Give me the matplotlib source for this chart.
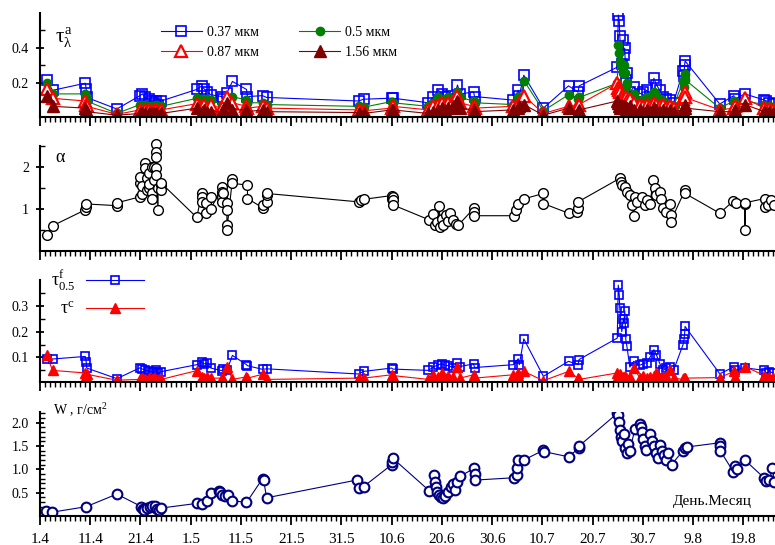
import numpy as np
import matplotlib
matplotlib.use('Agg')
import matplotlib.pyplot as plt
from matplotlib.ticker import FixedLocator, MultipleLocator, FormatStrFormatter

plt.rcParams['font.family'] = ['Liberation Serif', 'DejaVu Serif']
plt.rcParams['mathtext.fontset'] = 'custom'
plt.rcParams['mathtext.rm'] = 'Liberation Serif'
plt.rcParams['mathtext.it'] = 'Liberation Serif'
plt.rcParams['mathtext.bf'] = 'Liberation Serif:bold'

# days counted from 1 April
xlabels = ['1.4', '11.4', '21.4', '1.5', '11.5', '21.5', '31.5', '10.6',
           '20.6', '30.6', '10.7', '20.7', '30.7', '9.8', '19.8']

# --- panel 1 and 3: spectral AOD, fine/coarse AOD
days = [1.3, 2.5, 9.0, 9.2, 9.3, 15.3,
        19.9, 20.4, 20.9, 21.7, 22.2, 22.7, 23.1, 23.5, 24.1,
        31.2, 32.2, 32.6, 33.3, 34.0,
        36.2, 36.5, 37.2, 38.3,
        41.1, 41.3, 44.3, 45.1,
        63.4, 64.4, 70.0, 70.2,
        77.3, 78.3, 79.3, 80.0, 80.6, 81.3, 82.3, 83.1, 83.6,
        86.3, 86.5,
        94.2, 95.2, 95.4, 96.3,
        100.2, 105.2, 107.1, 107.3,
        114.9, 115.1, 115.3, 115.4, 115.8, 116.1, 116.2, 116.4, 116.6, 116.8,
        117.4, 118.2, 119.4, 120.1, 120.8, 121.4, 122.2, 122.7, 123.4, 124.1, 124.7, 125.4, 126.1,
        128.0, 128.2, 128.3, 128.4,
        135.3, 138.1, 138.3, 140.3,
        144.2, 144.6, 145.2, 145.9]

tau037 = [0.22, 0.16, 0.20, 0.17, 0.12, 0.055,
          0.13, 0.14, 0.12, 0.11, 0.10, 0.09, 0.10, 0.08, 0.10,
          0.165, 0.185, 0.17, 0.15, 0.135,
          0.125, 0.11, 0.145, 0.21,
          0.165, 0.125, 0.13, 0.12,
          0.10, 0.11, 0.116, 0.116,
          0.09, 0.125, 0.16, 0.14, 0.125, 0.13, 0.11, 0.19, 0.14,
          0.15, 0.125,
          0.105, 0.16, 0.13, 0.245,
          0.06, 0.185, 0.15, 0.185,
          0.29, 0.584, 0.552, 0.466, 0.31, 0.443, 0.36, 0.397, 0.22, 0.26,
          0.15, 0.177, 0.14, 0.15, 0.16, 0.12, 0.228, 0.19, 0.16, 0.12, 0.11, 0.106, 0.09,
          0.27, 0.24, 0.30, 0.325,
          0.083, 0.13, 0.11, 0.14,
          0.105, 0.10, 0.09, 0.085]

tau05 = [0.20, 0.14, 0.14, 0.12, 0.10, 0.03,
         0.08, 0.07, 0.08, 0.07, 0.07, 0.06, 0.08, 0.06, 0.07,
         0.115, 0.11, 0.10, 0.11, 0.105,
         0.08, 0.075, 0.10, 0.125,
         0.105, 0.09, 0.09, 0.08,
         0.07, 0.065, 0.097, 0.09,
         0.07, 0.09, 0.12, 0.10, 0.11, 0.12, 0.09, 0.15, 0.12,
         0.10, 0.09,
         0.08, 0.12, 0.10, 0.215,
         0.045, 0.135, 0.11, 0.12,
         0.20, 0.415, 0.37, 0.32, 0.29, 0.26, 0.30, 0.26, 0.18, 0.20,
         0.12, 0.14, 0.10, 0.105, 0.12, 0.10, 0.15, 0.13, 0.11, 0.10, 0.09, 0.08, 0.07,
         0.21, 0.18, 0.25, 0.22,
         0.06, 0.10, 0.08, 0.10,
         0.08, 0.07, 0.07, 0.065]

tau087 = [0.17, 0.115, 0.10, 0.08, 0.07, 0.025,
          0.05, 0.04, 0.05, 0.05, 0.04, 0.05, 0.05, 0.04, 0.05,
          0.085, 0.07, 0.08, 0.06, 0.075,
          0.06, 0.07, 0.12, 0.09,
          0.07, 0.06, 0.07, 0.06,
          0.05, 0.045, 0.06, 0.07,
          0.05, 0.07, 0.08, 0.09, 0.08, 0.09, 0.10, 0.13, 0.09,
          0.07, 0.06,
          0.07, 0.08, 0.09, 0.13,
          0.03, 0.07, 0.075, 0.08,
          0.20, 0.175, 0.16, 0.15, 0.13, 0.12, 0.11, 0.10, 0.12, 0.10,
          0.11, 0.09, 0.08, 0.07, 0.08, 0.07, 0.09, 0.08, 0.07, 0.08, 0.06, 0.07, 0.06,
          0.11, 0.125, 0.15, 0.12,
          0.05, 0.06, 0.07, 0.115,
          0.06, 0.05, 0.055, 0.05]

tau156 = [0.13, 0.07, 0.06, 0.05, 0.04, 0.02,
          0.03, 0.03, 0.03, 0.03, 0.03, 0.03, 0.03, 0.02, 0.03,
          0.06, 0.04, 0.05, 0.04, 0.04,
          0.04, 0.05, 0.09, 0.05,
          0.05, 0.04, 0.05, 0.04,
          0.035, 0.03, 0.05, 0.05,
          0.03, 0.04, 0.05, 0.06, 0.05, 0.06, 0.07, 0.10, 0.06,
          0.05, 0.04,
          0.05, 0.06, 0.07, 0.08,
          0.02, 0.06, 0.04, 0.05,
          0.10, 0.09, 0.07, 0.06, 0.08, 0.07, 0.06, 0.07, 0.05, 0.06,
          0.07, 0.05, 0.05, 0.04, 0.05, 0.04, 0.06, 0.05, 0.04, 0.05, 0.04, 0.05, 0.04,
          0.05, 0.06, 0.08, 0.06,
          0.04, 0.04, 0.05, 0.08,
          0.04, 0.035, 0.04, 0.035]

tau_fine = [0.094, 0.094, 0.104, 0.082, 0.059, 0.018,
            0.06, 0.055, 0.05, 0.048, 0.045, 0.042, 0.05, 0.04, 0.045,
            0.072, 0.082, 0.075, 0.078, 0.059,
            0.049, 0.055, 0.05, 0.108,
            0.072, 0.068, 0.054, 0.056,
            0.036, 0.046, 0.059, 0.055,
            0.05, 0.063, 0.072, 0.076, 0.07, 0.068, 0.06, 0.08, 0.065,
            0.075, 0.061,
            0.072, 0.095, 0.072, 0.172,
            0.027, 0.085, 0.072, 0.092,
            0.175, 0.38, 0.342, 0.29, 0.20, 0.25, 0.235, 0.28, 0.17, 0.146,
            0.063, 0.085, 0.07, 0.076, 0.08, 0.10, 0.13, 0.11, 0.075, 0.05, 0.06, 0.065, 0.05,
            0.15, 0.17, 0.19, 0.22,
            0.037, 0.063, 0.05, 0.06,
            0.05, 0.04, 0.045, 0.04]

tau_coarse = [0.11, 0.05, 0.04, 0.03, 0.035, 0.012,
              0.015, 0.02, 0.015, 0.02, 0.015, 0.02, 0.018, 0.012, 0.015,
              0.049, 0.025, 0.02, 0.025, 0.02,
              0.02, 0.015, 0.065, 0.015,
              0.025, 0.02, 0.035, 0.015,
              0.02, 0.02, 0.033, 0.03,
              0.015, 0.033, 0.025, 0.04, 0.02, 0.03, 0.025, 0.065, 0.02,
              0.033, 0.02,
              0.033, 0.04, 0.02, 0.046,
              0.01, 0.046, 0.02, 0.015,
              0.04, 0.03, 0.02, 0.035, 0.02, 0.025, 0.015, 0.03, 0.02, 0.015,
              0.025, 0.06, 0.02, 0.03, 0.02, 0.025, 0.03, 0.04, 0.02, 0.025, 0.03, 0.05, 0.02,
              0.015, 0.02, 0.015, 0.02,
              0.022, 0.046, 0.025, 0.065,
              0.03, 0.02, 0.025, 0.02]

# --- panel 2: Angstrom exponent
days_a = [1.3, 2.5, 9.0, 9.1, 9.2, 15.3, 15.4,
          19.9, 19.9, 19.9, 20.4, 20.4, 20.9, 20.9, 21.2, 21.2, 21.7, 21.7, 21.7,
          22.2, 22.2, 22.2, 22.7, 22.7, 23.1, 23.1, 23.1, 23.1, 23.1, 23.5, 23.5,
          24.1, 24.1, 24.1,
          31.2, 32.2, 32.2, 32.2, 33.0, 33.0, 34.0, 34.0,
          36.2, 36.2, 36.2, 36.2, 36.5, 37.2, 37.2, 37.2, 37.2, 38.3, 38.3,
          41.3, 41.3, 44.3, 44.4, 45.1, 45.1, 45.1,
          63.4, 63.8, 64.4, 70.0, 70.0, 70.2, 70.2, 70.2,
          77.5, 78.3, 78.6, 79.0, 79.5, 79.6, 80.0, 80.3, 80.9, 81.3, 81.6, 82.3, 82.8, 83.3,
          86.4, 86.4, 86.4, 94.3, 94.8, 95.2, 96.3,
          100.2, 100.2, 105.2, 106.9, 107.0, 107.1,
          115.4, 115.6, 115.8, 116.4, 116.8, 117.4, 117.8, 118.2, 118.4, 118.8,
          119.8, 120.4, 120.8, 121.4, 122.1, 122.4, 122.7, 123.4, 123.7, 124.1,
          124.7, 125.4, 125.5, 125.5,
          128.4, 128.4, 135.3, 138.0, 138.6, 140.3, 140.3, 140.4,
          144.3, 144.3, 144.9, 145.5, 146.1]

alpha = [0.38, 0.60, 0.98, 1.05, 1.12, 1.08, 1.15,
         1.29, 1.61, 1.77, 1.35, 1.55, 2.09, 1.97, 1.45, 1.75, 1.50, 1.85, 1.60,
         2.00, 1.37, 1.25, 2.00, 1.70, 2.54, 2.36, 2.25, 1.98, 1.81, 0.98, 1.50,
         1.57, 1.45, 1.62,
         0.80, 1.37, 1.29, 1.17, 0.90, 1.14, 1.29, 1.00,
         1.53, 1.41, 1.29, 1.17, 1.37, 1.14, 0.98, 0.62, 0.50, 1.71, 1.61,
         1.57, 1.25, 1.03, 1.10, 1.16, 1.33, 1.37,
         1.17, 1.21, 1.23, 1.32, 1.24, 1.29, 1.21, 1.10,
         0.74, 0.87, 0.62, 0.70, 1.08, 0.58, 0.76, 0.62, 0.86, 0.72, 0.90, 0.74, 0.64, 0.62,
         1.02, 0.92, 0.84, 0.84, 0.98, 1.12, 1.24,
         1.37, 1.13, 0.90, 0.93, 1.03, 1.17,
         1.73, 1.65, 1.57, 1.53, 1.41, 1.33, 1.10, 0.84, 1.29, 1.17,
         1.29, 1.10, 1.21, 1.13, 1.69, 1.49, 1.33, 1.41, 1.25, 1.02,
         0.94, 1.13, 0.86, 0.70,
         1.45, 1.37, 0.90, 1.19, 1.14, 1.13, 0.50, 1.15,
         1.25, 1.05, 1.10, 1.21, 1.10]

# --- panel 4: precipitable water
days_w = [1.2, 2.3, 9.2, 15.3,
          20.2, 20.5, 20.8, 21.3, 21.8, 22.3, 22.8, 23.2, 23.6, 24.1,
          31.2, 32.2, 33.3, 34.0, 35.6, 35.9, 36.3, 36.9, 37.4, 38.2,
          41.1, 44.3, 44.5, 45.1, 63.0, 63.5, 64.4, 70.0, 70.1, 70.2,
          77.5, 78.4, 78.6, 78.8, 79.0, 79.4, 79.8, 80.2, 80.7, 81.3, 81.8, 82.2, 82.6, 83.0, 83.6,
          86.4, 86.5, 86.6, 94.3, 94.9, 95.0, 95.2, 96.3,
          100.2, 100.3, 105.2, 107.2, 107.3,
          114.9, 115.0, 115.2, 115.4, 115.6, 115.9, 116.2, 116.5, 116.8, 117.1, 117.4,
          118.4, 119.4, 119.6, 119.8, 120.1, 120.4, 120.7, 121.5, 121.9, 122.3, 122.7,
          123.0, 123.4, 123.8, 124.2, 124.6, 125.1, 125.7,
          128.0, 128.4, 128.8, 135.3, 135.3, 135.4, 138.0, 138.3, 138.8, 140.3,
          144.2, 144.6, 145.2, 145.8, 146.2]

water = [0.11, 0.08, 0.20, 0.47,
         0.20, 0.14, 0.12, 0.18, 0.20, 0.22, 0.21, 0.15, 0.12, 0.17,
         0.27, 0.25, 0.33, 0.49, 0.53, 0.51, 0.46, 0.42, 0.45, 0.33,
         0.29, 0.80, 0.78, 0.39, 0.77, 0.60, 0.63, 1.10, 1.16, 1.24,
         0.54, 0.88, 0.72, 0.62, 0.52, 0.44, 0.40, 0.38, 0.42, 0.52, 0.62, 0.68, 0.55, 0.72, 0.85,
         1.02, 0.91, 0.77, 0.82, 0.88, 1.02, 1.20, 1.20,
         1.41, 1.38, 1.27, 1.45, 1.50,
         2.20, 2.17, 2.02, 1.85, 1.70, 1.60, 1.75, 1.45, 1.35, 1.55, 1.40,
         1.86, 1.97, 1.90, 1.80, 1.65, 1.50, 1.41, 1.75, 1.60, 1.50, 1.35,
         1.24, 1.52, 1.40, 1.30, 1.20, 1.35, 1.10,
         1.40, 1.46, 1.48, 1.57, 1.50, 1.40, 0.95, 1.08, 1.00, 1.20,
         0.81, 0.75, 0.78, 1.03, 0.72]

W, H = 775, 545
fig = plt.figure(figsize=(W / 100, H / 100), dpi=100)

def add_panel(top, bottom):
    return fig.add_axes([40 / W, 1 - bottom / H, 1 - 40 / W, (bottom - top) / H])

def style(ax, ylim, major, minor, fmt):
    ax.set_xlim(0, 146.3)
    ax.set_ylim(*ylim)
    for s in ['top', 'right']:
        ax.spines[s].set_visible(False)
    for s in ['left', 'bottom']:
        ax.spines[s].set_linewidth(1.5)
    ax.xaxis.set_major_locator(MultipleLocator(10))
    ax.xaxis.set_minor_locator(MultipleLocator(1))
    ax.yaxis.set_major_locator(FixedLocator(major))
    ax.yaxis.set_minor_locator(FixedLocator(minor))
    ax.yaxis.set_major_formatter(FormatStrFormatter(fmt))
    ax.tick_params(axis='x', which='major', direction='out', length=6.5, width=1.3)
    ax.tick_params(axis='x', which='minor', direction='out', length=3.5, width=1)
    ax.tick_params(axis='y', which='major', direction='inout', length=6, width=1.3,
                   labelsize=10, pad=5)
    ax.tick_params(axis='y', which='minor', direction='in', length=3.5, width=1)
    ax.tick_params(axis='x', labelbottom=False)

ax1 = add_panel(13, 117)
ax2 = add_panel(146, 251)
ax3 = add_panel(280, 382)
ax4 = add_panel(412, 516)

# panel 1
h037, = ax1.plot(days, tau037, '-', color='#0000ff', lw=0.8, marker='s', ms=7,
                 mfc='none', mec='#0000ff', mew=1.2)
h05, = ax1.plot(days, tau05, '-', color='#008000', lw=0.8, marker='o', ms=6,
                mfc='#008000', mec='#008000')
h087, = ax1.plot(days, tau087, '-', color='#ff0000', lw=0.8, marker='^', ms=9,
                 mfc='white', mec='#ff0000', mew=1.6)
h156, = ax1.plot(days, tau156, '-', color='#800000', lw=0.8, marker='^', ms=8.5,
                 mfc='#800000', mec='#800000')
style(ax1, (0.01, 0.595), [0.2, 0.4], [0.1, 0.3, 0.5], '%.1f')
# ncol=2 fills by column: row 1 -> 0.37, 0.5 ; row 2 -> 0.87, 1.56
ax1.legend([h037, h087, h05, h156], ['0.37 мкм', '0.87 мкм', '0.5 мкм', '1.56 мкм'],
           ncol=2, loc='upper left', bbox_to_anchor=(0.165, 0.875), frameon=False,
           fontsize=10, handlelength=2.9, handletextpad=0.4, columnspacing=2.9,
           labelspacing=0.5, borderpad=0, borderaxespad=0)
ax1.text(0.021, 0.76, r'$\tau^{a}_{\lambda}$', transform=ax1.transAxes,
         fontsize=15, va='center', ha='left')

# panel 2
ax2.plot(days_a, alpha, '-', color='black', lw=0.8, marker='o', ms=7,
         mfc='white', mec='black', mew=1.0, clip_on=False)
style(ax2, (0, 2.5), [1, 2], [0.5, 1.5, 2.5], '%d')
ax2.text(0.02, 0.89, r'$\alpha$', transform=ax2.transAxes, fontsize=13,
         va='center', ha='left')

# panel 3
l1, = ax3.plot(days, tau_fine, '-', color='#0000ff', lw=0.8, marker='s', ms=5.5,
               mfc='none', mec='#0000ff', mew=1.2)
l2, = ax3.plot(days, tau_coarse, '-', color='#ff0000', lw=0.8, marker='^', ms=7,
               mfc='#ff0000', mec='#ff0000')
style(ax3, (0.005, 0.4), [0.1, 0.2, 0.3], [0.05, 0.15, 0.25, 0.35], '%.1f')
ax3.legend([l1, l2], [r'$\tau^{f}_{0.5}$', r'$\tau^{c}$'], markerfirst=False,
           loc='upper left', bbox_to_anchor=(0.015, 1.12), frameon=False,
           fontsize=13, handlelength=3.2, handletextpad=0.6, labelspacing=0.45,
           borderpad=0, borderaxespad=0)

# panel 4
ax4.plot(days_w, water, '-', color='#000080', lw=0.8, marker='o', ms=7,
         mfc='white', mec='#000080', mew=1.5)
style(ax4, (0, 2.23), [0.5, 1.0, 1.5, 2.0], list(np.arange(0.1, 2.25, 0.1)), '%.1f')
ax4.set_xticks(np.arange(0, 150, 10))
ax4.set_xticklabels(xlabels)
ax4.tick_params(axis='x', labelbottom=True, labelsize=11, pad=6)
ax4.text(0.018, 1.02, 'W , г/см$^{2}$', transform=ax4.transAxes, fontsize=10,
         va='center', ha='left')
ax4.text(0.969, 0.135, 'День.Месяц', transform=ax4.transAxes, fontsize=11,
         va='center', ha='right')

fig.savefig('out.png', dpi=100)
